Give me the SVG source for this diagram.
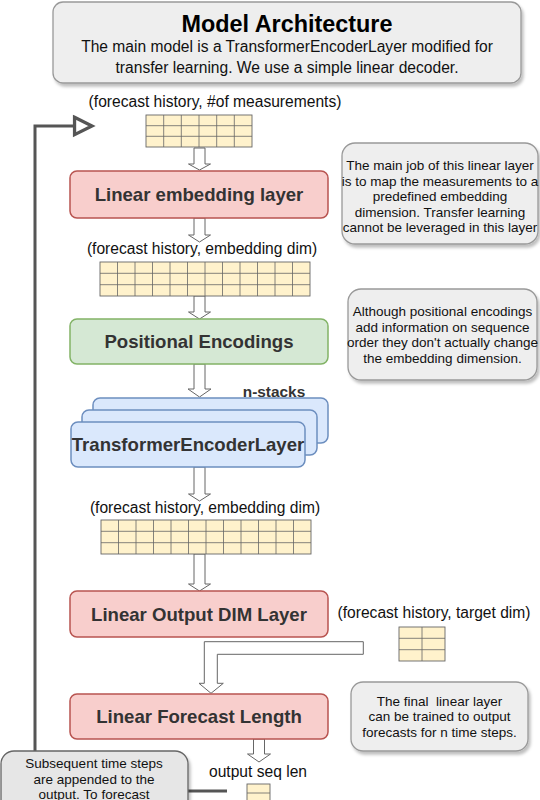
<svg xmlns="http://www.w3.org/2000/svg" width="540" height="800" viewBox="0 0 540 800">
<style>
text{font-family:"Liberation Sans",Arial,sans-serif;}
.note{fill:#eeeeee;stroke:#999999;stroke-width:1.3;filter:url(#sh);}
.note2{fill:#e6e6e6;stroke:#666666;stroke-width:1.3;filter:url(#sh);}
.nt{font-size:13.5px;fill:#111;text-anchor:middle;}
.lbl{font-size:15.6px;fill:#111;text-anchor:middle;}
.bt{font-size:18.6px;font-weight:bold;fill:#333;text-anchor:middle;}
.red{fill:#f8cecc;stroke:#b85450;stroke-width:1.5;}
.green{fill:#d5e8d4;stroke:#82b366;stroke-width:1.5;}
.blue{fill:#dae8fc;stroke:#6c8ebf;stroke-width:1.5;}
.grid rect{fill:#fff2cc;stroke:#666;stroke-width:0.9;}
.grid path{fill:none;stroke:#666;stroke-width:0.8;}
.barrow{fill:#ffffff;stroke:#666666;stroke-width:1;}
.fb{fill:none;stroke:#555555;stroke-width:3;}
</style>
<defs>
<filter id="sh" x="-10%" y="-10%" width="130%" height="140%"><feDropShadow dx="2" dy="3" stdDeviation="1.5" flood-color="#000" flood-opacity="0.25"/></filter>
<marker id="openTri" markerUnits="userSpaceOnUse" markerWidth="24" markerHeight="24" refX="16" refY="8" orient="auto" viewBox="-2 -2 22 20">
<path d="M0,0 L16,8 L0,16 Z" fill="#ffffff" stroke="#555555" stroke-width="3"/>
</marker>
</defs>

<g id="connectors">
<path class="fb" d="M227,791 H35 V126 H92" marker-end="url(#openTri)"/>
<path class="barrow" d="M194,148 V164 H188.5 L199.5,170 L210.5,164 H205 V148 Z"/>
<path class="barrow" d="M194,218 V235 H188.5 L199.5,242 L210.5,235 H205 V218 Z"/>
<path class="barrow" d="M194,296 V312 H188.5 L199.5,319 L210.5,312 H205 V296 Z"/>
<path class="barrow" d="M194,364 V389 H188 L199.5,397 L211,389 H205 V364 Z"/>
<path class="barrow" d="M194,467 V494 H188.5 L199.5,501 L210.5,494 H205 V467 Z"/>
<path class="barrow" d="M194,554 V584 H188.5 L199.5,591 L210.5,584 H205 V554 Z"/>
<path class="barrow" d="M204.3,641.7 H363.3 V654.3 H217.3 V683.3 H223.3 L211,693.3 L199,683.3 H204.3 Z"/>
<path class="barrow" d="M253.5,739 V754 H247.5 L259,762 L270.5,754 H264.5 V739 Z"/>
</g>

<g id="title">
<rect class="note" x="53" y="2" width="468" height="81" rx="10"/>
<text x="287" y="32" style="font-size:23.4px;font-weight:bold;fill:#000;text-anchor:middle">Model Architecture</text>
<text class="lbl" x="287" y="52">The main model is a TransformerEncoderLayer modified for</text>
<text class="lbl" x="287" y="73">transfer learning. We use a simple linear decoder.</text>
</g>

<g id="label-input">
<text class="lbl" x="215" y="107">(forecast history, #of measurements)</text>
</g>
<g id="grid-input" class="grid">
<rect x="146" y="115" width="106" height="32"/>
<path d="M163.7,115V147M181.3,115V147M199,115V147M216.7,115V147M234.3,115V147M146,125.7H252M146,136.3H252"/>
</g>

<g id="linear-embedding">
<rect class="red" x="70" y="171" width="258" height="47" rx="7"/>
<text class="bt" x="199" y="201">Linear embedding layer</text>
</g>

<g id="note-embedding">
<rect class="note" x="342" y="143" width="196" height="101" rx="13"/>
<text class="nt" x="440" y="170">The main job of this linear layer</text>
<text class="nt" x="440" y="185.5">is to map the measurements to a</text>
<text class="nt" x="440" y="201">predefined embedding</text>
<text class="nt" x="440" y="216.5">dimension. Transfer learning</text>
<text class="nt" x="440" y="232">cannot be leveraged in this layer</text>
</g>

<g id="label-emb1">
<text class="lbl" x="202" y="254">(forecast history, embedding dim)</text>
</g>
<g id="grid-emb1" class="grid">
<rect x="100" y="262" width="210" height="34"/>
<path d="M117.5,262V296M135,262V296M152.5,262V296M170,262V296M187.5,262V296M205,262V296M222.5,262V296M240,262V296M257.5,262V296M275,262V296M292.5,262V296M100,273.3H310M100,284.7H310"/>
</g>

<g id="positional-encodings">
<rect class="green" x="70" y="319" width="258" height="45" rx="7"/>
<text class="bt" x="199" y="348">Positional Encodings</text>
</g>

<g id="note-positional">
<rect class="note" x="348" y="289" width="189" height="91" rx="13"/>
<text class="nt" x="442.5" y="316">Although positional encodings</text>
<text class="nt" x="442.5" y="331.5">add information on sequence</text>
<text class="nt" x="442.5" y="347">order they don't actually change</text>
<text class="nt" x="442.5" y="362.5">the embedding dimension.</text>
</g>

<g id="transformer-stack">
<text x="274" y="397" style="font-size:15.4px;font-weight:bold;fill:#333;text-anchor:middle">n-stacks</text>
<rect class="blue" x="93" y="398" width="235" height="45" rx="7"/>
<rect class="blue" x="82" y="410" width="235" height="45" rx="7"/>
<rect class="blue" x="71" y="422" width="234" height="45" rx="7"/>
<text class="bt" x="188" y="451">TransformerEncoderLayer</text>
</g>

<g id="label-emb2">
<text class="lbl" x="205" y="513">(forecast history, embedding dim)</text>
</g>
<g id="grid-emb2" class="grid">
<rect x="101" y="520" width="210" height="34"/>
<path d="M118.5,520V554M136,520V554M153.5,520V554M171,520V554M188.5,520V554M206,520V554M223.5,520V554M241,520V554M258.5,520V554M276,520V554M293.5,520V554M101,531.3H311M101,542.7H311"/>
</g>

<g id="linear-output-dim">
<rect class="red" x="70" y="591" width="258" height="46" rx="7"/>
<text class="bt" x="199" y="620.5">Linear Output DIM Layer</text>
</g>

<g id="label-target">
<text class="lbl" x="434" y="618">(forecast history, target dim)</text>
</g>
<g id="grid-target" class="grid">
<rect x="399" y="627" width="46" height="34"/>
<path d="M422,627V661M399,638.3H445M399,649.7H445"/>
</g>

<g id="linear-forecast-length">
<rect class="red" x="70" y="694" width="258" height="45" rx="7"/>
<text class="bt" x="199" y="722.5">Linear Forecast Length</text>
</g>

<g id="note-final">
<rect class="note" x="351" y="682" width="177" height="69" rx="12"/>
<text class="nt" x="439.5" y="705.5" xml:space="preserve">The final  linear layer</text>
<text class="nt" x="439.5" y="721">can be trained to output</text>
<text class="nt" x="439.5" y="736.5">forecasts for n time steps.</text>
</g>

<g id="label-output">
<text class="lbl" x="258" y="777">output seq len</text>
</g>
<g id="grid-output" class="grid">
<rect x="247" y="784" width="23" height="27"/>
<path d="M247,793H270M247,802H270"/>
</g>

<g id="note-subsequent">
<rect class="note2" x="1" y="751" width="187" height="70" rx="13"/>
<text class="nt" x="94" y="768">Subsequent time steps</text>
<text class="nt" x="94" y="783.5">are appended to the</text>
<text class="nt" x="94" y="799">output. To forecast</text>
</g>
</svg>
